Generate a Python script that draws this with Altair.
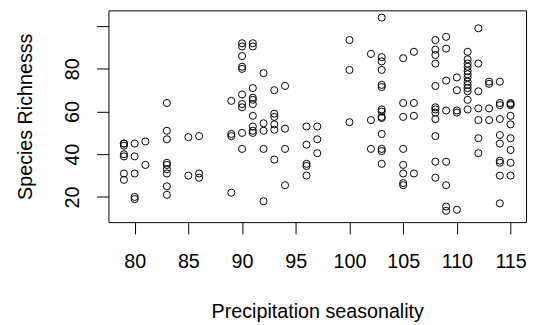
import altair as alt
import pandas as pd

# Precipitation seasonality (x) and species richness (y)
x79 = [45, 45, 44, 40, 39, 31, 28]
x80 = [45, 39, 31, 20, 19]
x81 = [46, 35]
x83 = [64, 51, 47, 36, 35, 33, 31, 25, 21]
x85 = [48, 30]
x86 = [48.5, 31, 29]
x89 = [65, 49.5, 48.5, 22]
x90 = [92, 90.5, 86, 81, 80, 68, 63.5, 62, 50, 42.5]
x91 = [92, 90.5, 71, 66.5, 65.5, 63.5, 58, 53, 51, 50]
x92 = [78, 54.5, 51, 42.5, 18]
x93 = [70, 59, 57.5, 54, 51.5, 37.5]
x94 = [72, 52, 42.5, 25.5]
x96 = [53, 44.5, 35.5, 34.5, 30]
x97 = [53, 47, 40.5]
x100 = [93.5, 79.5, 55]
x102 = [87, 56, 42.5]
x103 = [104, 85.5, 83.5, 79.5, 72.5, 71.5, 61, 60, 57.5, 57, 49.5, 42.5, 41.5, 35.5]
x105 = [85, 64, 57.5, 42.5, 35, 31, 26.5, 25.5]
x106 = [88, 64, 58, 31]
x108 = [93.5, 89, 86.5, 82.5, 72, 62, 61, 59.5, 56.5, 48.5, 36.5, 29]
x109 = [95, 89.5, 74.5, 60.5, 36.5, 25.5, 15.5, 13.5]
x110 = [76, 70, 60.5, 59.5, 14]
x111 = [88, 84.5, 82.5, 81, 79, 77.5, 76, 74, 72.5, 71, 69.5, 65.5, 61]
x112 = [99, 82.5, 69.5, 61.5, 56, 47.5, 40.5]
x113 = [74, 73, 61.5, 56]
x114 = [74, 64, 63, 56.5, 49, 45, 37, 36, 30, 17]
x115 = [64, 63.5, 63, 58, 54, 47.5, 42, 36, 30]

columns = {
    79: x79, 80: x80, 81: x81, 83: x83, 85: x85, 86: x86, 89: x89, 90: x90,
    91: x91, 92: x92, 93: x93, 94: x94, 96: x96, 97: x97, 100: x100,
    102: x102, 103: x103, 105: x105, 106: x106, 108: x108, 109: x109,
    110: x110, 111: x111, 112: x112, 113: x113, 114: x114, 115: x115,
}

x_ticks = [80, 85, 90, 95, 100, 105, 110, 115]
y_ticks = [20, 40, 60, 80, 100]

rows = [{"ps": k, "sr": v} for k, vals in columns.items() for v in vals]
df = pd.DataFrame(rows)

FONT = "Liberation Sans"

chart = alt.Chart(df).mark_point(
    shape="circle", filled=False, color="black", size=52, strokeWidth=1, opacity=1
).encode(
    x=alt.X("ps:Q", scale=alt.Scale(domain=[77.56, 116.44], nice=False, zero=False),
            axis=alt.Axis(values=x_ticks, title="Precipitation seasonality", grid=False,
                          domain=False, tickSize=12, tickColor="black", labelColor="black",
                          labelFontSize=20, labelFont=FONT, labelPadding=18,
                          labelBaseline="top", labelFlush=False,
                          titleFont=FONT, titleFontSize=20, titleFontWeight="normal",
                          titleColor="black", titleX=212, titleY=91,
                          titleBaseline="middle", titleAlign="center")),
    y=alt.Y("sr:Q", scale=alt.Scale(domain=[8.2, 107.4], nice=False, zero=False),
            axis=alt.Axis(values=y_ticks, title="Species Richnesss", grid=False,
                          domain=False, tickSize=12, tickColor="black", labelColor="black",
                          labelFontSize=20, labelFont=FONT, labelPadding=14,
                          labelAngle=-90, labelAlign="center", labelBaseline="bottom",
                          labelFlush=False,
                          labelExpr="datum.value == 100 ? '' : datum.label",
                          titleFont=FONT, titleFontSize=20, titleFontWeight="normal",
                          titleColor="black", titleX=-84, titleY=107.5, titleAngle=-90,
                          titleBaseline="middle", titleAlign="center")),
).properties(
    width=424, height=215,
    autosize=alt.AutoSizeParams(type="none"),
    padding={"left": 102, "top": 0, "right": 3, "bottom": 100},
).configure(
    background="white",
    view=alt.ViewConfig(stroke="black", strokeWidth=1),
)

chart.save("out.html", embed_options={"renderer": "svg", "actions": False})
